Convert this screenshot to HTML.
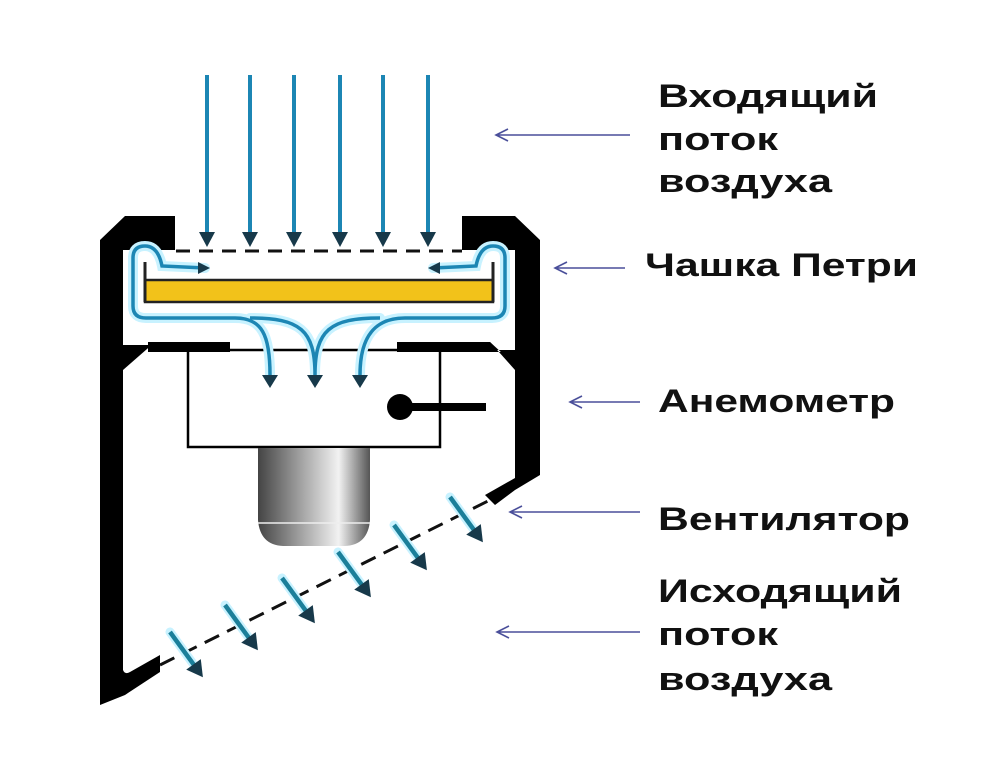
<!DOCTYPE html>
<html><head><meta charset="utf-8"><style>
html,body{margin:0;padding:0;background:#fff;width:986px;height:770px;overflow:hidden}
text{font-family:"Liberation Sans",sans-serif;font-weight:bold;font-size:32px;fill:#111}
</style></head><body>
<svg width="986" height="770" viewBox="0 0 986 770" xmlns="http://www.w3.org/2000/svg">
<defs>
<linearGradient id="cyl" x1="0" x2="1" y1="0" y2="0">
<stop offset="0" stop-color="#444"/><stop offset="0.35" stop-color="#9a9a9a"/><stop offset="0.72" stop-color="#f2f2f2"/><stop offset="1" stop-color="#555"/>
</linearGradient>
<g id="fa">
<line x1="0" y1="0" x2="0" y2="44" stroke="#c8f2ff" stroke-width="9" stroke-linecap="round"/>
<line x1="0" y1="0" x2="0" y2="44" stroke="#1b7f9a" stroke-width="4.5"/>
<path d="M-9,40 L9,40 L0,56 Z" fill="#17394a"/>
</g>
</defs>

<!-- housing -->
<path d="M100,240 L125,216 L175,216 L175,250 L123,250 L123,345 L148,345 L148,352 L230,352 L230,342 L155,342 L123,370 L123,670 Q125,675 130,672 L160,655 L160,672 L125,695 L100,705 Z" fill="#000"/>
<path d="M462,216 L515,216 L540,240 L540,475 L515,490 L495,505 L485,495 L515,478 L515,370 L490,342 L397,342 L397,352 L480,352 L515,352 L515,250 L462,250 Z" fill="#000"/>
<path d="M148,342 L230,342 L230,350 L148,350 Z" fill="#000"/>
<path d="M397,342 L490,342 L515,365 L515,350 L397,350 Z" fill="#000"/>

<!-- inner chamber -->
<rect x="188" y="350" width="252" height="97" fill="none" stroke="#000" stroke-width="2.5"/>

<!-- anemometer -->
<circle cx="400" cy="407" r="13" fill="#000"/>
<rect x="400" y="403" width="86" height="8" fill="#000"/>

<!-- cylinder -->
<path d="M258,448 L370,448 L370,520 Q368,545 345,546 L283,546 Q260,545 258,520 Z" fill="url(#cyl)"/>
<line x1="258" y1="523" x2="370" y2="523" stroke="#eee" stroke-width="1.5"/>

<!-- petri dish -->
<rect x="145" y="280" width="348" height="22" fill="#f2c21a" stroke="#222" stroke-width="2.5"/>
<line x1="145" y1="262" x2="145" y2="302" stroke="#222" stroke-width="3"/>
<line x1="493" y1="262" x2="493" y2="302" stroke="#222" stroke-width="3"/>

<!-- dashed inlet -->
<line x1="176" y1="251" x2="462" y2="251" stroke="#111" stroke-width="3" stroke-dasharray="14,9"/>

<!-- blue flows glow -->
<g fill="none" stroke="#c8f2ff" stroke-width="10" stroke-linecap="round">
<path d="M205,268 L162,266 Q158,246 145,246 Q133,246 133,258 L133,306 Q133,318 146,318 L235,318 C262,318 270,335 270,375"/>
<path d="M433,268 L476,266 Q480,246 493,246 Q505,246 505,258 L505,306 Q505,318 492,318 L405,318 C376,318 360,335 360,375"/>
<path d="M250,318 C300,318 315,330 315,375 M380,318 C330,318 315,330 315,375"/>
</g>
<g fill="none" stroke="#1c86b4" stroke-width="3.5">
<path d="M205,268 L162,266 Q158,246 145,246 Q133,246 133,258 L133,306 Q133,318 146,318 L235,318 C262,318 270,335 270,375" />
<path d="M433,268 L476,266 Q480,246 493,246 Q505,246 505,258 L505,306 Q505,318 492,318 L405,318 C376,318 360,335 360,375"/>
<path d="M250,318 C300,318 315,330 315,375 M380,318 C330,318 315,330 315,375"/>
</g>
<g fill="#17394a">
<path d="M210,268 L198,262 L198,274 Z"/><path d="M428,268 L440,262 L440,274 Z"/>
<path d="M262,375 L278,375 L270,388 Z"/><path d="M307,375 L323,375 L315,388 Z"/><path d="M352,375 L368,375 L360,388 Z"/>
</g>

<!-- incoming arrows -->
<g stroke="#1c86b4" stroke-width="4">
<line x1="207" y1="75" x2="207" y2="235"/><line x1="250" y1="75" x2="250" y2="235"/><line x1="294" y1="75" x2="294" y2="235"/>
<line x1="340" y1="75" x2="340" y2="235"/><line x1="383" y1="75" x2="383" y2="235"/><line x1="428" y1="75" x2="428" y2="235"/>
</g>
<g fill="#17394a">
<path d="M199,232 L215,232 L207,247 Z"/><path d="M242,232 L258,232 L250,247 Z"/><path d="M286,232 L302,232 L294,247 Z"/>
<path d="M332,232 L348,232 L340,247 Z"/><path d="M375,232 L391,232 L383,247 Z"/><path d="M420,232 L436,232 L428,247 Z"/>
</g>

<!-- fan line -->
<line x1="160" y1="665" x2="490" y2="500" stroke="#111" stroke-width="3" stroke-dasharray="16,9"/>
<use href="#fa" transform="translate(170,632) rotate(-36)"/>
<use href="#fa" transform="translate(225,605) rotate(-36)"/>
<use href="#fa" transform="translate(282,578) rotate(-36)"/>
<use href="#fa" transform="translate(338,552) rotate(-36)"/>
<use href="#fa" transform="translate(394,525) rotate(-36)"/>
<use href="#fa" transform="translate(450,497) rotate(-36)"/>

<!-- label arrows -->
<g stroke="#4a4f9a" stroke-width="1.6" fill="none">
<path d="M496,135 L630,135 M508,129 L496,135 L508,141"/>
<path d="M555,268 L625,268 M567,262 L555,268 L567,274"/>
<path d="M570,402 L640,402 M582,396 L570,402 L582,408"/>
<path d="M510,512 L640,512 M522,506 L510,512 L522,518"/>
<path d="M497,632 L640,632 M509,626 L497,632 L509,638"/>
</g>

<!-- labels -->
<text x="658" y="107" textLength="220" lengthAdjust="spacingAndGlyphs">Входящий</text>
<text x="658" y="150" textLength="120" lengthAdjust="spacingAndGlyphs">поток</text>
<text x="658" y="192" textLength="174" lengthAdjust="spacingAndGlyphs">воздуха</text>
<text x="645" y="276" textLength="273" lengthAdjust="spacingAndGlyphs">Чашка Петри</text>
<text x="658" y="412" textLength="237" lengthAdjust="spacingAndGlyphs">Анемометр</text>
<text x="658" y="530" textLength="252" lengthAdjust="spacingAndGlyphs">Вентилятор</text>
<text x="658" y="602" textLength="244" lengthAdjust="spacingAndGlyphs">Исходящий</text>
<text x="658" y="645" textLength="120" lengthAdjust="spacingAndGlyphs">поток</text>
<text x="658" y="690" textLength="174" lengthAdjust="spacingAndGlyphs">воздуха</text>
</svg>
</body></html>
